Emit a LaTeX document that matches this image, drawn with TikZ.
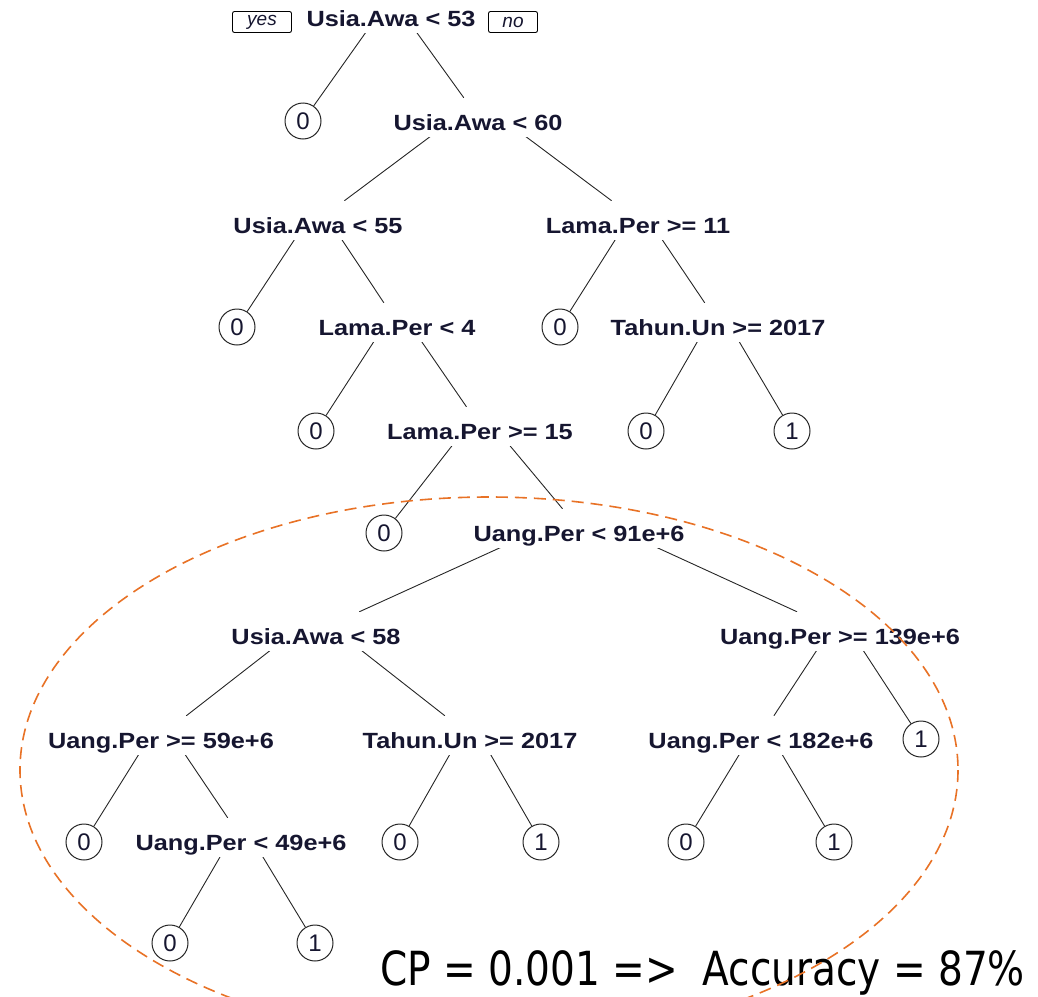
\documentclass[tikz,border=0pt]{standalone}
\usepackage{fontspec}
\setmainfont{Liberation Sans}
\newfontfamily\splitfont[FakeStretch=1.15]{Liberation Sans}
\newfontfamily\notefont[FakeStretch=0.83]{DejaVu Sans}
\pgfdeclarelayer{background}
\pgfsetlayers{background,main}
\definecolor{ink}{RGB}{22,22,48}
\definecolor{ringorange}{RGB}{232,114,38}

\begin{document}
\begin{tikzpicture}[x=1pt,y=-1pt,
  split/.style={anchor=base, fill=white, inner xsep=2pt, inner ysep=0pt,
    text height=32pt, text depth=7pt, text=ink,
    font=\splitfont\bfseries\fontsize{22}{24}\selectfont},
  leaf/.style={circle, draw=black!85, line width=1pt, fill=white,
    minimum size=36pt, inner sep=0pt, text=ink,
    font=\fontsize{24}{26}\selectfont},
  tag/.style={draw=black, line width=0.9pt, rounded corners=2pt, fill=white,
    minimum height=21pt, inner sep=0pt, text=ink,
    font=\itshape\fontsize{19}{21}\selectfont},
  branch/.style={draw=black!85, line width=0.9pt},
  top/.style={yshift=-3pt}]

\useasboundingbox (0,0) rectangle (1038,996);

% split nodes (base line sits 8 units below the text centre)
\node[split] (root)  at (391,26)  {Usia.Awa < 53};
\node[split] (s60)   at (478,130) {Usia.Awa < 60};
\node[split] (s55)   at (318,233) {Usia.Awa < 55};
\node[split] (lp11)  at (638,233) {Lama.Per >= 11};
\node[split] (lp4)   at (397,335) {Lama.Per < 4};
\node[split] (tu1)   at (718,335) {Tahun.Un >= 2017};
\node[split] (lp15)  at (480,439) {Lama.Per >= 15};
\node[split] (up91)  at (579,541) {Uang.Per < 91e+6};
\node[split] (s58)   at (316,644) {Usia.Awa < 58};
\node[split] (up139) at (840,644) {Uang.Per >= 139e+6};
\node[split] (up59)  at (161,748) {Uang.Per >= 59e+6};
\node[split] (tu2)   at (470,748) {Tahun.Un >= 2017};
\node[split] (up182) at (761,748) {Uang.Per < 182e+6};
\node[split] (up49)  at (241,850) {Uang.Per < 49e+6};

% yes / no tags beside the root
\node[tag, minimum width=59pt] (yes) at (262,22) {yes};
\node[tag, minimum width=49pt] (no)  at (513,22) {no};

% leaves
\node[leaf] (f1)  at (303,121) {0};
\node[leaf] (f2)  at (237,327) {0};
\node[leaf] (f3)  at (560,327) {0};
\node[leaf] (f4)  at (316,431) {0};
\node[leaf] (f5)  at (646,431) {0};
\node[leaf] (f6)  at (792,431) {1};
\node[leaf] (f7)  at (384,533) {0};
\node[leaf] (f8)  at (921,739) {1};
\node[leaf] (f9)  at (84,842)  {0};
\node[leaf] (f10) at (400,842) {0};
\node[leaf] (f11) at (541,842) {1};
\node[leaf] (f12) at (686,842) {0};
\node[leaf] (f13) at (834,842) {1};
\node[leaf] (f14) at (170,943) {0};
\node[leaf] (f15) at (315,943) {1};

% branches, drawn beneath the label boxes
\begin{pgfonlayer}{background}
\draw[branch] ([top]root.north) -- (f1);
\draw[branch] ([top]root.north) -- (s60);
\draw[branch] ([top]s60.north) -- (s55);
\draw[branch] ([top]s60.north) -- (lp11);
\draw[branch] ([top]s55.north) -- (f2);
\draw[branch] ([top]s55.north) -- (lp4);
\draw[branch] ([top]lp11.north) -- (f3);
\draw[branch] ([top]lp11.north) -- (tu1);
\draw[branch] ([top]lp4.north) -- (f4);
\draw[branch] ([top]lp4.north) -- (lp15);
\draw[branch] ([top]tu1.north) -- (f5);
\draw[branch] ([top]tu1.north) -- (f6);
\draw[branch] ([top]lp15.north) -- (f7);
\draw[branch] ([top]lp15.north) -- (up91);
\draw[branch] ([top]up91.north) -- (s58);
\draw[branch] ([top]up91.north) -- (up139);
\draw[branch] ([top]s58.north) -- (up59);
\draw[branch] ([top]s58.north) -- (tu2);
\draw[branch] ([top]up139.north) -- (up182);
\draw[branch] ([top]up139.north) -- (f8);
\draw[branch] ([top]up59.north) -- (f9);
\draw[branch] ([top]up59.north) -- (up49);
\draw[branch] ([top]tu2.north) -- (f10);
\draw[branch] ([top]tu2.north) -- (f11);
\draw[branch] ([top]up182.north) -- (f12);
\draw[branch] ([top]up182.north) -- (f13);
\draw[branch] ([top]up49.north) -- (f14);
\draw[branch] ([top]up49.north) -- (f15);
\end{pgfonlayer}

% note
\node[anchor=base west, inner sep=0pt, text=black,
  font=\notefont\fontsize{47}{52}\selectfont] (note) at (380,985)
  {CP = 0.001 =>\ \ Accuracy = 87\%};

% highlighted subtree
\draw[ringorange, line width=1.6pt, dash pattern=on 12pt off 7pt]
  (489,770) ellipse [x radius=469, y radius=273];
\end{tikzpicture}
\end{document}
